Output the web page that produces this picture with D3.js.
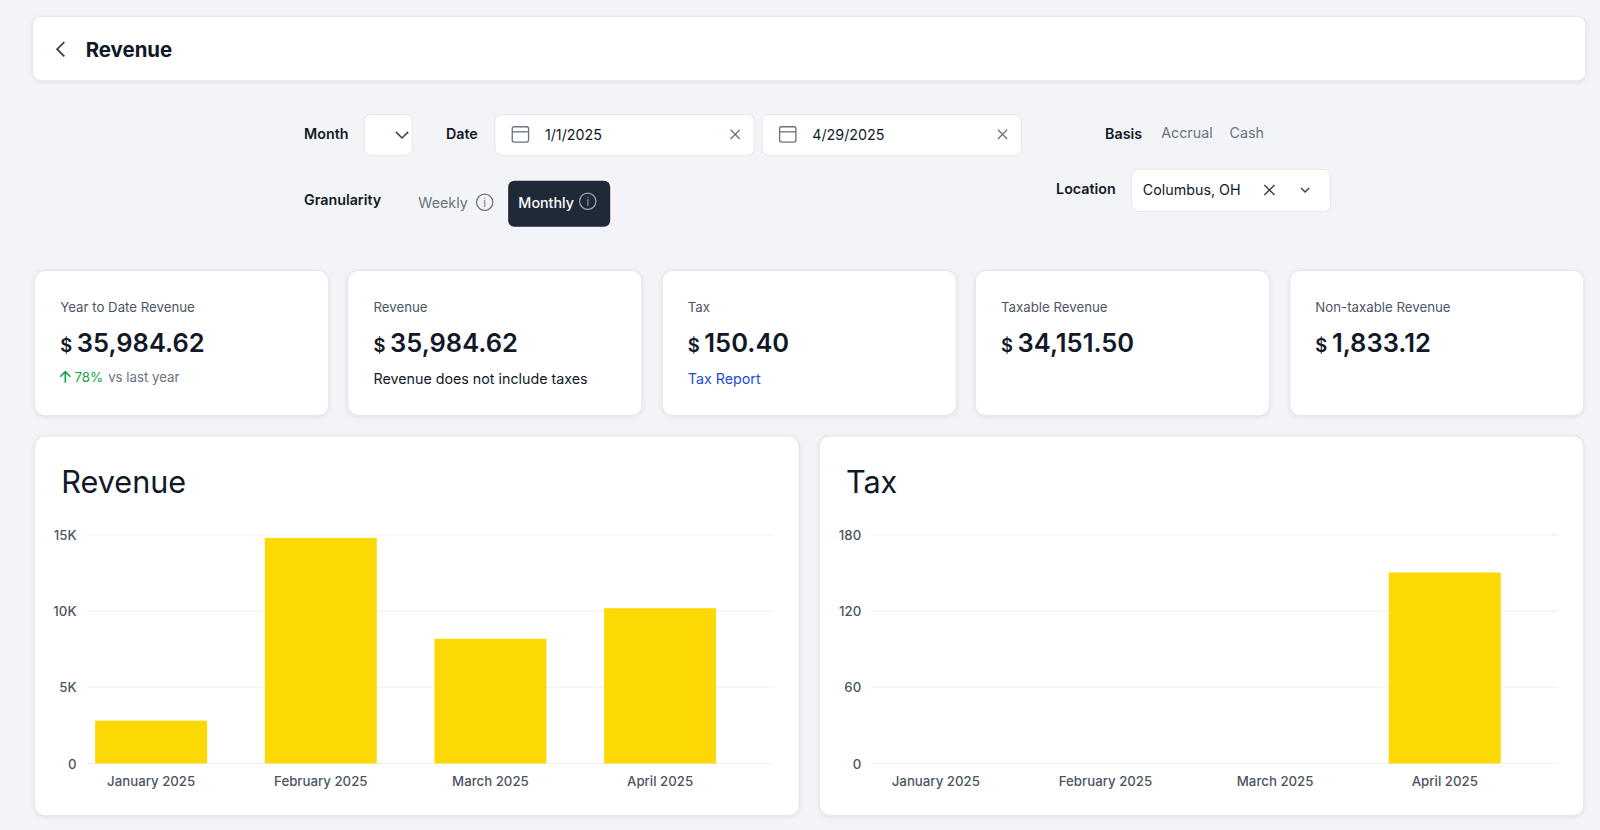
<!DOCTYPE html>
<html><head><meta charset="utf-8">
<script src="https://cdn.jsdelivr.net/npm/d3@7"></script>
<style>
html,body{margin:0;background:#f3f4f7;font-family:Inter,"Noto Sans",sans-serif;overflow:hidden;}
svg{display:block;}
svg text{font-family:Inter,"Noto Sans",sans-serif;}
</style></head>
<body><svg id="c" width="1600" height="830" viewBox="0 0 1568 813"></svg>
<script>
const months = ["January 2025", "February 2025", "March 2025", "April 2025"];
const revenue = [2810, 14800, 8180, 10190];
const tax = [0, 0, 0, 150.4];
const revenueTicks = [0, 5000, 10000, 15000];
const taxTicks = [0, 60, 120, 180];
const kpis = [
  {label: "Year to Date Revenue", value: "35,984.62", sub: "vs last year", pct: "78%"},
  {label: "Revenue", value: "35,984.62", sub: "Revenue does not include taxes"},
  {label: "Tax", value: "150.40", sub: "Tax Report", link: true},
  {label: "Taxable Revenue", value: "34,151.50"},
  {label: "Non-taxable Revenue", value: "1,833.12"}
];

const svg = d3.select("#c");
const card = (x, y, w, h, r = 10) => svg.append("rect").attr("x", x).attr("y", y)
  .attr("width", w).attr("height", h).attr("rx", r).attr("fill", "#fff")
  .attr("stroke", "#e6e8ec").style("filter", "drop-shadow(0 1px 2px rgba(0,0,0,0.08))");
const txt = (x, y, s, size, color = "#111827", weight = 400, anchor = "start") =>
  svg.append("text").attr("x", x).attr("y", y).attr("font-size", size).attr("fill", color)
    .attr("font-weight", weight).attr("text-anchor", anchor).text(s);

// header
card(32, 16, 1522, 63, 8);
svg.append("path").attr("d", "M63,41 L56,48 L63,55").attr("fill", "none").attr("stroke", "#374151").attr("stroke-width", 1.8);
txt(84, 56, "Revenue", 20, "#111827", 700);

// filters
txt(298, 136, "Month", 14, "#111827", 600);
svg.append("rect").attr("x", 357).attr("y", 112).attr("width", 47).attr("height", 40).attr("rx", 6).attr("fill", "#fff").attr("stroke", "#e5e7eb");
svg.append("path").attr("d", "M388,129 L394,135 L400,129").attr("fill", "none").attr("stroke", "#374151").attr("stroke-width", 1.5);
txt(437, 136, "Date", 14, "#111827", 600);
[[485, "1/1/2025"], [747, "4/29/2025"]].forEach(([x, s]) => {
  svg.append("rect").attr("x", x).attr("y", 112).attr("width", 254).attr("height", 40).attr("rx", 6).attr("fill", "#fff").attr("stroke", "#e5e7eb");
  svg.append("rect").attr("x", x + 17).attr("y", 124).attr("width", 16).attr("height", 15).attr("rx", 2).attr("fill", "none").attr("stroke", "#6b7280").attr("stroke-width", 1.3);
  svg.append("line").attr("x1", x + 17).attr("x2", x + 33).attr("y1", 129).attr("y2", 129).attr("stroke", "#6b7280").attr("stroke-width", 1.3);
  txt(x + 49, 137, s, 14, "#111827");
  svg.append("path").attr("d", `M${x + 231},127 l9,9 M${x + 240},127 l-9,9`).attr("stroke", "#6b7280").attr("stroke-width", 1.3);
});
txt(1083, 136, "Basis", 14, "#111827", 600);
txt(1138, 135, "Accrual", 14, "#6b7280");
txt(1205, 135, "Cash", 14, "#6b7280");
txt(298, 201, "Granularity", 14, "#111827", 600);
txt(410, 204, "Weekly", 14, "#6b7280");
svg.append("circle").attr("cx", 475).attr("cy", 198).attr("r", 8).attr("fill", "none").attr("stroke", "#6b7280").attr("stroke-width", 1.2);
txt(475, 203, "i", 11, "#6b7280", 400, "middle");
svg.append("rect").attr("x", 498).attr("y", 177).attr("width", 100).attr("height", 45).attr("rx", 6).attr("fill", "#1f2937");
txt(508, 204, "Monthly", 14, "#fff", 500);
svg.append("circle").attr("cx", 576).attr("cy", 197).attr("r", 8).attr("fill", "none").attr("stroke", "#9ca3af").attr("stroke-width", 1.2);
txt(576, 202, "i", 11, "#9ca3af", 400, "middle");
txt(1035, 190, "Location", 14, "#111827", 600);
svg.append("rect").attr("x", 1109).attr("y", 166).attr("width", 195).attr("height", 41).attr("rx", 6).attr("fill", "#fff").attr("stroke", "#e5e7eb");
txt(1120, 191, "Columbus, OH", 14, "#111827");
svg.append("path").attr("d", "M1239,181 l10,10 M1249,181 l-10,10").attr("stroke", "#374151").attr("stroke-width", 1.4);
svg.append("path").attr("d", "M1275,184 l4,4 l4,-4").attr("fill", "none").attr("stroke", "#374151").attr("stroke-width", 1.4);

// KPI cards
const kx = [34, 341, 649, 956, 1264];
kpis.forEach((k, i) => {
  const x = kx[i];
  card(x, 265, 288, 142);
  txt(x + 25, 306, k.label, 13, "#4b5563");
  const t = svg.append("text").attr("x", x + 25).attr("y", 345).attr("fill", "#111827");
  t.append("tspan").attr("font-size", 18).attr("font-weight", 600).text("$ ");
  t.append("tspan").attr("font-size", 25).attr("font-weight", 600).text(k.value);
  if (k.pct) {
    svg.append("path").attr("d", `M${x + 30},375 v-11 M${x + 25},369 l5,-5 l5,5`).attr("fill", "none").attr("stroke", "#16a34a").attr("stroke-width", 1.6);
    txt(x + 39, 374, k.pct, 13, "#16a34a");
    txt(x + 72, 374, k.sub, 13, "#6b7280");
  } else if (k.sub) {
    txt(x + 25, 376, k.sub, 14, k.link ? "#1d4ed8" : "#111827");
  }
});

// charts
function chart(x0, title, values, ticks, fmt) {
  card(x0, 427, 749, 372);
  txt(x0 + 26, 483, title, 30, "#111827", 400);
  const y = d3.scaleLinear().domain([0, ticks[ticks.length - 1]]).range([748, 524]);
  const x = d3.scaleBand().domain(months).range([x0 + 31, x0 + 696]).paddingInner(0.34).paddingOuter(0.17);
  const g = svg.append("g");
  g.selectAll(".grid").data(ticks).join("line")
    .attr("x1", x0 + 51).attr("x2", x0 + 724).attr("y1", d => y(d)).attr("y2", d => y(d))
    .attr("stroke", "#eef0f3");
  g.selectAll(".yt").data(ticks).join("text")
    .attr("x", x0 + 41).attr("y", d => y(d) + 5).attr("text-anchor", "end")
    .attr("font-size", 13).attr("font-weight", 500).attr("fill", "#4b5563").text(fmt);
  g.selectAll(".bar").data(values).join("rect")
    .attr("x", (d, i) => x(months[i])).attr("width", x.bandwidth())
    .attr("y", d => y(d)).attr("height", d => 748 - y(d)).attr("fill", "#fcd905");
  g.selectAll(".xt").data(months).join("text")
    .attr("x", d => x(d) + x.bandwidth() / 2).attr("y", 770).attr("text-anchor", "middle")
    .attr("font-size", 13).attr("font-weight", 500).attr("fill", "#4b5563").text(d => d);
}
chart(34, "Revenue", revenue, revenueTicks, d => d === 0 ? "0" : d / 1000 + "K");
chart(803, "Tax", tax, taxTicks, d => d);
</script></body></html>
